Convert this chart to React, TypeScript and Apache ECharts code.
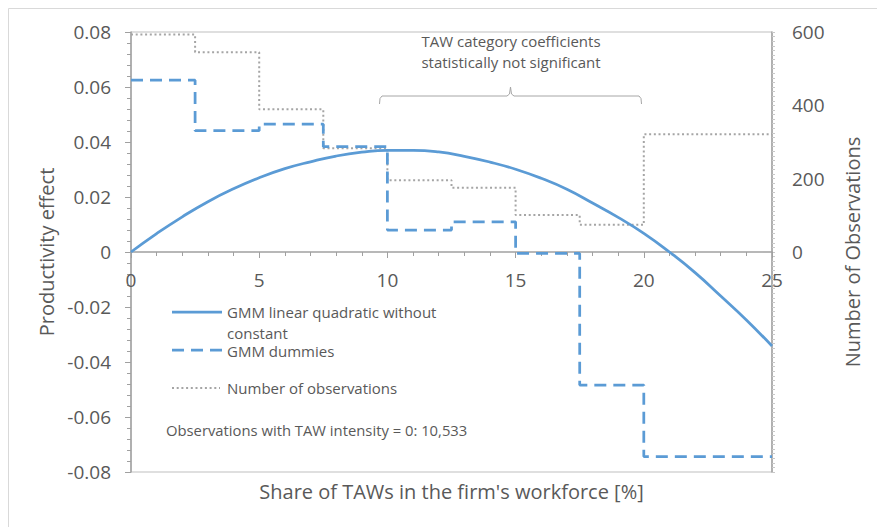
import React, { useEffect, useRef } from "react";
import * as echarts from "echarts";

// Quadratic GMM curve
const curveX = [0, 1, 2, 3, 4, 5, 6, 7, 8, 9, 10, 11, 12, 13, 14, 15, 16, 17, 18, 19, 20, 21, 22, 23, 24, 25];
const curveY = [0, 0.0067, 0.0128, 0.0183, 0.023, 0.027, 0.0303, 0.0328, 0.0349, 0.0363, 0.037, 0.037, 0.0364, 0.0348, 0.0327, 0.0301, 0.0268, 0.0228, 0.0178, 0.0126, 0.0068, 0, -0.0075, -0.016, -0.0247, -0.0342];

// Category boundaries (step starts) and values
const stepX = [0, 2.5, 5, 7.5, 10, 12.5, 15, 17.5, 20, 25];
const dummyY = [0.0625, 0.0441, 0.0465, 0.0383, 0.008, 0.011, -0.0005, -0.0484, -0.0744, -0.0744];
const obsY = [593, 545, 389, 283, 196, 175, 101, 74, 321, 321];

const leftTicks = [-0.08, 0.08];
const rightTicks = [-600, 600];
const xRange = [0, 25];

const FONT = "'Open Sans', 'Noto Sans', sans-serif";
const TXT = "#595959";
const BLUE = "#5B9BD5";
const GRAY = "#A5A5A5";
const AXIS = "#A0A0A0";
const LEG = 15;

export default function App() {
  const ref = useRef<HTMLDivElement>(null);
  useEffect(() => {
    if (!ref.current) return;
    const chart = echarts.init(ref.current, null, { renderer: "svg" });
    const legText = (x: number, y: number, text: string, extra: any = {}) => ({
      type: "text",
      x,
      y,
      style: { text, fontSize: LEG, lineHeight: 16, fontFamily: FONT, fill: TXT, verticalAlign: "middle", ...extra },
    });
    const option: any = {
      animation: false,
      backgroundColor: "#ffffff",
      textStyle: { fontFamily: FONT, color: TXT },
      grid: {
        left: 131,
        right: 105,
        top: 32,
        bottom: 55,
        containLabel: false,
        outerBoundsMode: "none",
        show: true,
        borderColor: "#BFBFBF",
        borderWidth: 1,
        backgroundColor: "transparent",
      },
      xAxis: {
        type: "value",
        min: xRange[0],
        max: xRange[1],
        interval: 5,
        position: "bottom",
        offset: -220,
        name: "Share of TAWs in the firm's workforce [%]",
        nameLocation: "middle",
        nameGap: 229,
        nameMoveOverlap: false,
        nameTextStyle: { fontSize: 20, color: TXT, fontFamily: FONT },
        axisLine: { onZero: false, lineStyle: { color: AXIS, width: 1.5 } },
        axisTick: { show: true, length: 6, lineStyle: { color: AXIS } },
        minorTick: { show: true, splitNumber: 5, length: 4, lineStyle: { color: AXIS } },
        axisLabel: { fontSize: 19, color: TXT, margin: 18, fontFamily: FONT },
        splitLine: { show: false },
      },
      yAxis: [
        {
          type: "value",
          min: leftTicks[0],
          max: leftTicks[1],
          interval: 0.02,
          name: "Productivity effect",
          nameLocation: "middle",
          nameGap: 73,
          nameTextStyle: { fontSize: 20, color: TXT, fontFamily: FONT },
          axisLine: { show: true, onZero: false, lineStyle: { color: AXIS, width: 1.5 } },
          axisTick: { show: true, length: 6, lineStyle: { color: AXIS } },
          minorTick: { show: true, splitNumber: 5, length: 4, lineStyle: { color: AXIS } },
          axisLabel: {
            fontSize: 19,
            color: TXT,
            margin: 20,
            fontFamily: FONT,
            formatter: (v: number) => (Math.abs(v) < 1e-9 ? "0" : v.toFixed(2)),
          },
          splitLine: { show: false },
        },
        {
          type: "value",
          min: rightTicks[0],
          max: rightTicks[1],
          interval: 200,
          position: "right",
          name: "Number of Observations",
          nameLocation: "middle",
          nameGap: 70,
          nameTextStyle: { fontSize: 20, color: TXT, fontFamily: FONT },
          axisLine: { show: true, onZero: false, lineStyle: { color: AXIS, width: 1.5 } },
          axisTick: { show: true, length: 3, lineStyle: { color: "#C8C8C8" } },
          minorTick: { show: true, splitNumber: 16, length: 3, lineStyle: { color: "#C8C8C8" } },
          axisLabel: {
            fontSize: 19,
            color: TXT,
            margin: 20,
            fontFamily: FONT,
            formatter: (v: number) => (v < 0 ? "" : String(v)),
          },
          splitLine: { show: false },
        },
      ],
      series: [
        {
          name: "Number of observations",
          type: "line",
          yAxisIndex: 1,
          step: "end",
          showSymbol: false,
          data: stepX.map((x, i) => [x, obsY[i]]),
          lineStyle: { color: GRAY, width: 2, type: [2, 2.7] },
          z: 2,
        },
        {
          name: "GMM dummies",
          type: "line",
          step: "end",
          showSymbol: false,
          data: stepX.map((x, i) => [x, dummyY[i]]),
          lineStyle: { color: BLUE, width: 2.75, type: [12, 7] },
          z: 3,
        },
        {
          name: "GMM linear quadratic without constant",
          type: "line",
          smooth: true,
          showSymbol: false,
          data: curveX.map((x, i) => [x, curveY[i]]),
          lineStyle: { color: BLUE, width: 2.75 },
          z: 4,
        },
      ],
      graphic: [
        {
          type: "rect",
          shape: { x: 8.5, y: 8.5, width: 900, height: 540 },
          style: { fill: "none", stroke: "#D9D9D9", lineWidth: 1 },
          silent: true,
        },
        { type: "line", shape: { x1: 172, y1: 312, x2: 222, y2: 312 }, style: { stroke: BLUE, lineWidth: 2.75 } },
        legText(227, 312, "GMM linear quadratic without"),
        legText(227, 332.5, "constant"),
        { type: "line", shape: { x1: 172, y1: 350, x2: 222, y2: 350 }, style: { stroke: BLUE, lineWidth: 2.75, lineDash: [12, 7] } },
        legText(227, 351, "GMM dummies"),
        { type: "line", shape: { x1: 172, y1: 388, x2: 220, y2: 388 }, style: { stroke: GRAY, lineWidth: 2, lineDash: [2, 2.7] } },
        legText(227, 388, "Number of observations"),
        legText(166, 430, "Observations with TAW intensity = 0: 10,533", { fontSize: 14.8 }),
        legText(511, 41, "TAW category coefficients", { align: "center" }),
        legText(511, 62, "statistically not significant", { align: "center" }),
        {
          type: "polyline",
          shape: {
            points: [
              [379.5, 104], [380, 98.5], [382, 96], [507, 96], [509.5, 94], [510.5, 87], [511.5, 94], [514, 96], [639, 96], [641, 98.5], [641.5, 104],
            ],
          },
          style: { stroke: "#A6A6A6", lineWidth: 1, fill: "none" },
        },
      ],
    };
    chart.setOption(option);
    return () => chart.dispose();
  }, []);
  return <div ref={ref} style={{ position: "absolute", left: 0, top: 0, width: 877, height: 527 }} />;
}
